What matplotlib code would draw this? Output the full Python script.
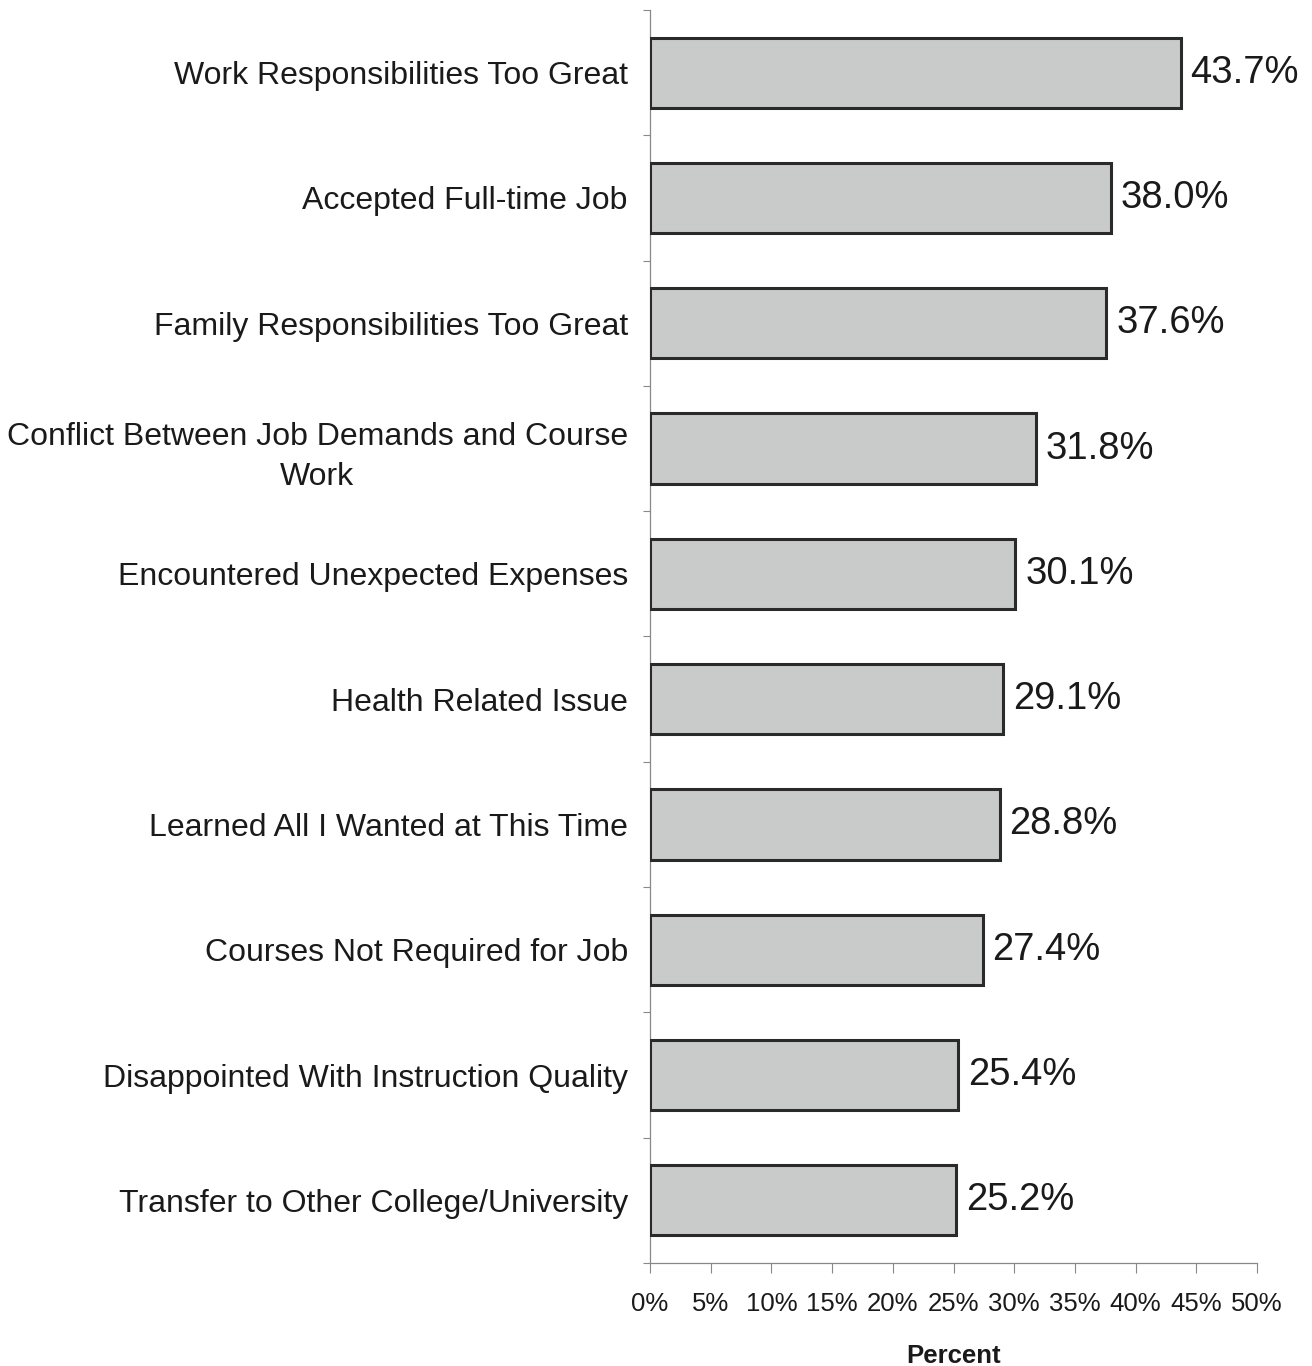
import matplotlib
matplotlib.use("Agg")
import matplotlib.pyplot as plt
import numpy as np

categories = [
    "Work Responsibilities Too Great",
    "Accepted Full-time Job",
    "Family Responsibilities Too Great",
    "Conflict Between Job Demands and Course\nWork",
    "Encountered Unexpected Expenses",
    "Health Related Issue",
    "Learned All I Wanted at This Time",
    "Courses Not Required for Job",
    "Disappointed With Instruction Quality",
    "Transfer to Other College/University",
]
values = [43.7, 38.0, 37.6, 31.8, 30.1, 29.1, 28.8, 27.4, 25.4, 25.2]
xticks = [0, 5, 10, 15, 20, 25, 30, 35, 40, 45, 50]
xticklabels = [f"{t}%" for t in xticks]

plt.rcParams['font.family'] = ['Liberation Sans', 'DejaVu Sans']

fig = plt.figure(figsize=(13.12, 13.66), dpi=100)
ax = fig.add_axes([650/1312, 1 - 1263/1366, (1257-650)/1312, (1263-10)/1366])

n = len(categories)
ypos = np.arange(n)
ax.barh(ypos, values, height=0.56, color="#c9cbcb", edgecolor="#2a2a2a", linewidth=2.2, zorder=3)

for y, v in zip(ypos, values):
    ax.text(v + 0.8, y, f"{v:.1f}%", va="center", ha="left", fontsize=27.5, color="#1a1a1a")

ax.set_ylim(n - 0.5, -0.5)
ax.set_xlim(0, 50)
ax.set_yticks(ypos)
ax.set_yticklabels(categories, fontsize=23, color="#1a1a1a", multialignment="center", linespacing=1.42)
ax.tick_params(axis="y", length=0, pad=16)
ax.set_yticks(np.arange(-0.5, n + 0.5, 1), minor=True)
ax.tick_params(axis="y", which="minor", length=5, width=0.8, color="#888888", direction="out")

ax.set_xticks(xticks)
ax.set_xticklabels(xticklabels, fontsize=18.5, color="#1a1a1a")
ax.tick_params(axis="x", length=7, width=0.8, color="#888888", pad=14)
ax.set_xlabel("Percent", fontsize=18.5, fontweight="bold", labelpad=20, color="#1a1a1a")

for s in ["top", "right"]:
    ax.spines[s].set_visible(False)
for s in ["left", "bottom"]:
    ax.spines[s].set_color("#888888")
    ax.spines[s].set_linewidth(0.9)

fig.savefig("out.png", dpi=100, facecolor="white")
